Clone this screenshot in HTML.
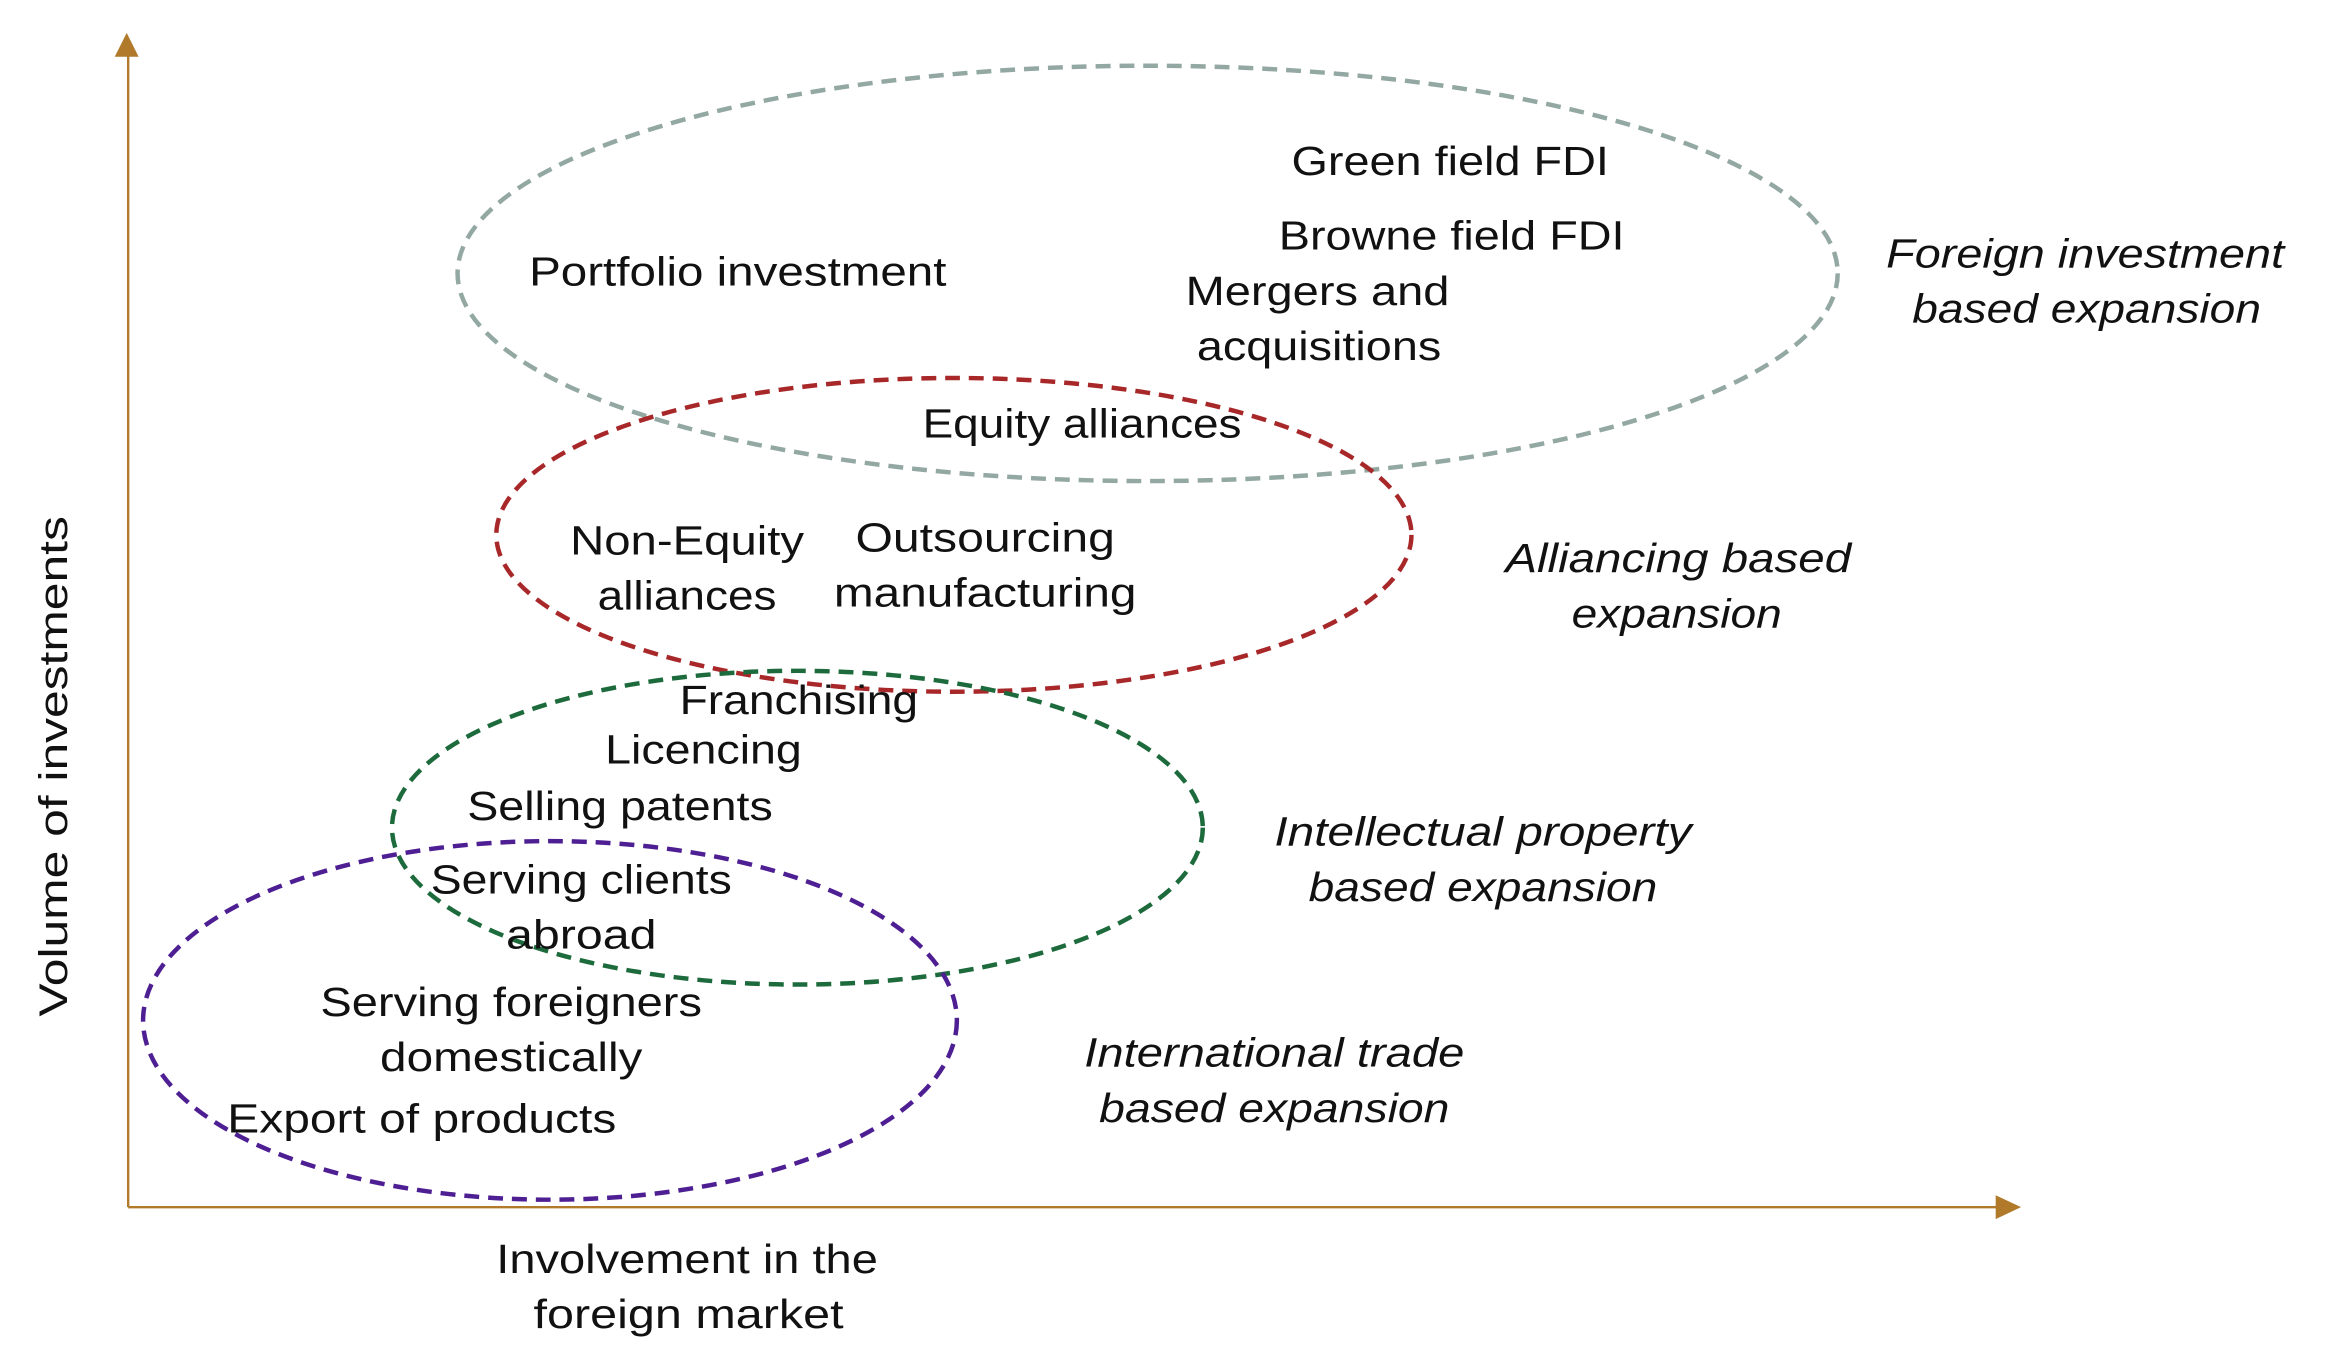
<!DOCTYPE html>
<html><head><meta charset="utf-8"><style>
html,body{margin:0;padding:0;background:#fff;}
svg{display:block;}
text{font-family:"Liberation Sans",sans-serif;font-size:27px;fill:#111;text-anchor:middle;}
.i{font-style:italic;}
</style></head><body>
<svg width="2337" height="1370" viewBox="0 0 1568 917" preserveAspectRatio="none" xmlns="http://www.w3.org/2000/svg">
<g stroke="#B07A2A" stroke-width="1.6" fill="none">
<line x1="86" y1="808" x2="86" y2="34"/>
<line x1="86" y1="808" x2="1342" y2="808"/>
</g>
<polygon points="85,22 77,38 93,38" fill="#B07A2A"/>
<polygon points="1356,808 1339,800 1339,816" fill="#B07A2A"/>
<g fill="none" stroke-width="3" stroke-dasharray="10 6">
<ellipse cx="770" cy="183" rx="463" ry="139" stroke="#93A8A2"/>
<ellipse cx="640" cy="358" rx="307" ry="105" stroke="#A8282A"/>
<ellipse cx="535" cy="554" rx="272" ry="105" stroke="#1D6B3C"/>
<ellipse cx="369" cy="683" rx="273" ry="120" stroke="#4E1E93"/>
</g>
<text x="973" y="117" textLength="213" lengthAdjust="spacingAndGlyphs">Green field FDI</text>
<text x="974" y="167" textLength="232" lengthAdjust="spacingAndGlyphs">Browne field FDI</text>
<text x="495" y="191" textLength="280" lengthAdjust="spacingAndGlyphs">Portfolio investment</text>
<text x="884" y="204" textLength="177" lengthAdjust="spacingAndGlyphs">Mergers and</text>
<text x="885" y="241" textLength="164" lengthAdjust="spacingAndGlyphs">acquisitions</text>
<text class="i" x="1399" y="179" textLength="267" lengthAdjust="spacingAndGlyphs">Foreign investment</text>
<text class="i" x="1400" y="216" textLength="234" lengthAdjust="spacingAndGlyphs">based expansion</text>
<text x="726" y="293" textLength="214" lengthAdjust="spacingAndGlyphs">Equity alliances</text>
<text x="461" y="371" textLength="157" lengthAdjust="spacingAndGlyphs">Non-Equity</text>
<text x="461" y="408" textLength="120" lengthAdjust="spacingAndGlyphs">alliances</text>
<text x="661" y="369" textLength="174" lengthAdjust="spacingAndGlyphs">Outsourcing</text>
<text x="661" y="406" textLength="203" lengthAdjust="spacingAndGlyphs">manufacturing</text>
<text class="i" x="1126" y="383" textLength="232" lengthAdjust="spacingAndGlyphs">Alliancing based</text>
<text class="i" x="1125" y="420" textLength="141" lengthAdjust="spacingAndGlyphs">expansion</text>
<text x="536" y="478" textLength="160" lengthAdjust="spacingAndGlyphs">Franchising</text>
<text x="472" y="511" textLength="132" lengthAdjust="spacingAndGlyphs">Licencing</text>
<text x="416" y="549" textLength="205" lengthAdjust="spacingAndGlyphs">Selling patents</text>
<text x="390" y="598" textLength="202" lengthAdjust="spacingAndGlyphs">Serving clients</text>
<text x="390" y="635" textLength="101" lengthAdjust="spacingAndGlyphs">abroad</text>
<text class="i" x="995" y="566" textLength="280" lengthAdjust="spacingAndGlyphs">Intellectual property</text>
<text class="i" x="995" y="603" textLength="234" lengthAdjust="spacingAndGlyphs">based expansion</text>
<text x="343" y="680" textLength="256" lengthAdjust="spacingAndGlyphs">Serving foreigners</text>
<text x="343" y="717" textLength="176" lengthAdjust="spacingAndGlyphs">domestically</text>
<text x="283" y="758" textLength="261" lengthAdjust="spacingAndGlyphs">Export of products</text>
<text class="i" x="855" y="714" textLength="255" lengthAdjust="spacingAndGlyphs">International trade</text>
<text class="i" x="855" y="751" textLength="235" lengthAdjust="spacingAndGlyphs">based expansion</text>
<text x="461" y="852" textLength="256" lengthAdjust="spacingAndGlyphs">Involvement in the</text>
<text x="462" y="889" textLength="208" lengthAdjust="spacingAndGlyphs">foreign market</text>
<text x="0" y="0" transform="translate(45,513) rotate(-90)" textLength="335" lengthAdjust="spacingAndGlyphs">Volume of investments</text>
</svg>
</body></html>
